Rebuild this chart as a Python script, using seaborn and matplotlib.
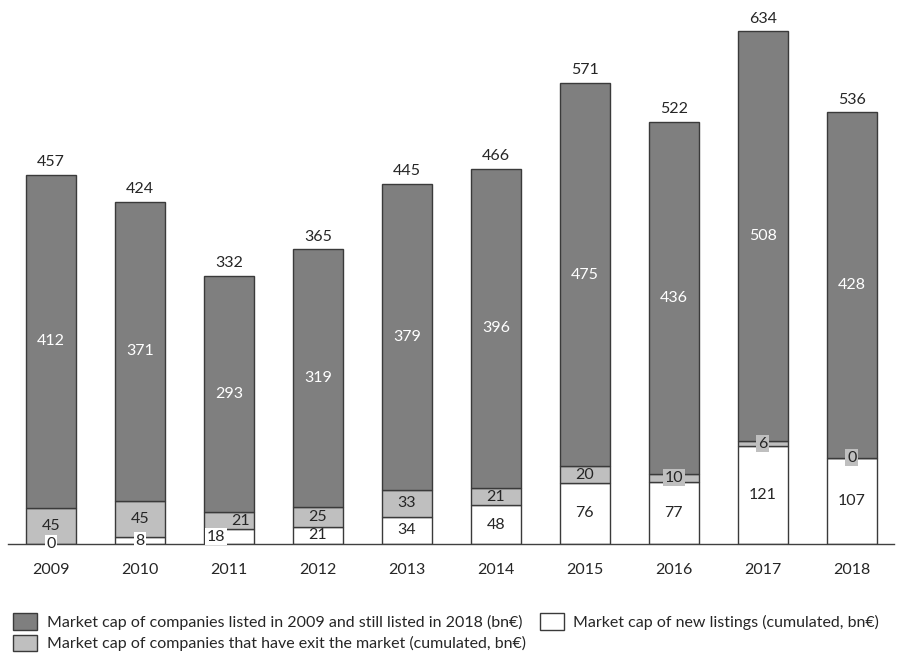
import matplotlib
matplotlib.use("Agg")
import matplotlib.pyplot as plt
import seaborn as sns
import pandas as pd
from matplotlib.patches import Patch
from matplotlib.transforms import offset_copy

years = ["2009", "2010", "2011", "2012", "2013", "2014", "2015", "2016", "2017", "2018"]
new_listings = [0, 8, 18, 21, 34, 48, 76, 77, 121, 107]
exited = [45, 45, 21, 25, 33, 21, 20, 10, 6, 0]
still_listed = [412, 371, 293, 319, 379, 396, 475, 436, 508, 428]
totals = [457, 424, 332, 365, 445, 466, 571, 522, 634, 536]

sns.set_theme(style="white")
plt.rcParams["font.family"] = ["Lato", "DejaVu Sans"]

DARK = "#7f7f7f"
LIGHT = "#bfbfbf"
WHITE = "#ffffff"
EDGE = "#3a3a3a"
TXT = "#262626"

df = pd.DataFrame({"year": years, "new": new_listings, "exited": exited,
                   "still": still_listed, "total": totals})
df["b_exit"] = df["new"]
df["b_still"] = df["new"] + df["exited"]

fig = plt.figure(figsize=(8.99, 6.53), dpi=100)
ax = fig.add_axes([0.009, 0.167, 0.985, 0.833])

width = 0.556
common = dict(edgecolor=EDGE, linewidth=1.0, width=width, ax=ax)
sns.barplot(data=df, x="year", y="new", color=WHITE, saturation=1, **common)
sns.barplot(data=df, x="year", y="exited", bottom=df["b_exit"], color=LIGHT, saturation=1, **common)
sns.barplot(data=df, x="year", y="still", bottom=df["b_still"], color=DARK, saturation=1, **common)

fs = 11.5


def shifted(dx_pt):
    return offset_copy(ax.transData, fig=fig, x=dx_pt, y=0, units="points")


# labels that would collide in thin stacks are pushed sideways
nudge_new = {"2011": -9.4}
nudge_exit = {"2011": 8.6}

for i, row in df.iterrows():
    # new listings (white) segment
    yc = row["new"] / 2
    small = row["new"] < 15 or row["year"] in nudge_new
    ax.text(i, yc, f"{row['new']}", ha="center", va="center", fontsize=fs, color=TXT,
            transform=shifted(nudge_new.get(row["year"], 0)),
            bbox=dict(boxstyle="square,pad=0.1", fc=WHITE, ec="none") if small else None)
    # exited (light grey) segment
    yc = row["b_exit"] + row["exited"] / 2
    small = row["exited"] < 15
    ax.text(i, yc, f"{row['exited']}", ha="center", va="center", fontsize=fs, color=TXT,
            transform=shifted(nudge_exit.get(row["year"], 0)),
            bbox=dict(boxstyle="square,pad=0.1", fc=LIGHT, ec="none") if small else None)
    # still-listed (dark grey) segment
    yc = row["b_still"] + row["still"] / 2
    ax.text(i, yc, f"{row['still']}", ha="center", va="center", fontsize=fs, color="white")
    # total above the stack
    ax.text(i, row["new"] + row["exited"] + row["still"] + 7, f"{row['total']}",
            ha="center", va="bottom", fontsize=fs, color=TXT)

ax.set_ylim(0, 674)
ax.set_xlim(-0.48, 9.47)
ax.set_xlabel("")
ax.set_ylabel("")
ax.set_yticks([])
ax.tick_params(axis="x", length=0, pad=14, labelsize=fs, labelcolor=TXT)
for s in ["top", "right", "left"]:
    ax.spines[s].set_visible(False)
ax.spines["bottom"].set_color("#404040")
ax.spines["bottom"].set_linewidth(1.0)

handles = [
    Patch(facecolor=DARK, edgecolor=EDGE, linewidth=1.0,
          label="Market cap of companies listed in 2009 and still listed in 2018 (bn€)"),
    Patch(facecolor=LIGHT, edgecolor=EDGE, linewidth=1.0,
          label="Market cap of companies that have exit the market (cumulated, bn€)"),
    Patch(facecolor=WHITE, edgecolor=EDGE, linewidth=1.0,
          label="Market cap of new listings (cumulated, bn€)"),
]
fig.legend(handles=handles, ncol=2, loc="upper left", bbox_to_anchor=(0.0145, 0.061),
           frameon=False, fontsize=fs, handlelength=1.5, handleheight=1.2,
           handletextpad=0.6, columnspacing=0.9, labelspacing=0.3, borderaxespad=0,
           borderpad=0, labelcolor=TXT)

fig.savefig("out.png", dpi=100)
